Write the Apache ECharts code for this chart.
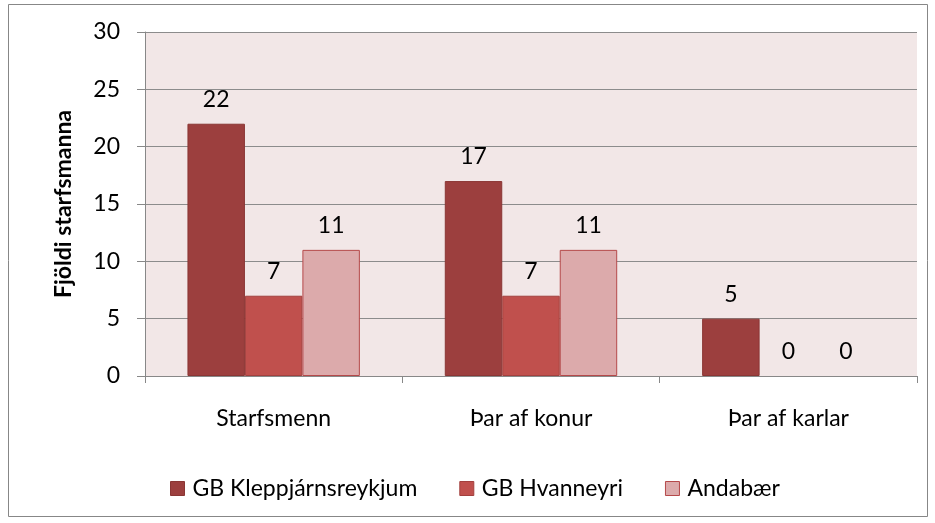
<!DOCTYPE html>
<html>
<head>
<meta charset="utf-8">
<script src="https://cdn.jsdelivr.net/npm/echarts@6/dist/echarts.min.js"></script>
<style>
    html, body { margin: 0; padding: 0; background: #fff; }
    #chart { width: 935px; height: 523px; }
</style>
</head>
<body>
<div id="chart"></div>
<script>
// flokkar og gildi
const categories = ["Starfsmenn", "Þar af konur", "Þar af karlar"];
const seriesNames = ["GB Kleppjárnsreykjum", "GB Hvanneyri", "Andabær"];
const kleppjarn = [22, 17, 5];
const hvanneyri = [7, 7, 0];
const andabaer = [11, 11, 0];
const barColors = ["#9c3f3e", "#c0504d", "#dcaaab"];
const borderColors = ["#8a3634", "#a3403e", "#b5494a"];

const font = "Lato, 'Noto Sans', sans-serif";
const fs = 23;
const values = [kleppjarn, hvanneyri, andabaer];

let chart = echarts.init(document.getElementById("chart"));

let option = {
    animation: false,
    textStyle: { fontFamily: font },
    graphic: [
        {
            type: "rect",
            shape: { x: 8.5, y: 4.5, width: 919, height: 512 },
            style: { fill: "none", stroke: "#878787", lineWidth: 1 },
            silent: true,
        },
    ],
    grid: {
        left: 145,
        right: 18,
        top: 32,
        bottom: 147,
        show: true,
        backgroundColor: "#f2e7e7",
        borderWidth: 0,
    },
    legend: {
        left: 165,
        top: 472,
        itemWidth: 14,
        itemHeight: 14,
        itemGap: 42,
        textStyle: { fontSize: fs, color: "#000", fontFamily: font, padding: [0, 0, 0, 3] },
        data: seriesNames.map((n, i) => ({
            name: n,
            icon: "rect",
            itemStyle: { color: barColors[i], borderColor: borderColors[i], borderWidth: 1 },
        })),
    },
    xAxis: {
        type: "category",
        data: categories,
        axisLine: { lineStyle: { color: "#888", width: 1 } },
        axisTick: { show: true, length: 7, lineStyle: { color: "#888" } },
        axisLabel: { margin: 31, fontSize: fs, color: "#000", fontFamily: font },
    },
    yAxis: {
        type: "value",
        min: 0,
        max: 30,
        interval: 5,
        name: "Fjöldi starfsmanna",
        nameLocation: "middle",
        nameGap: 70,
        nameTextStyle: { fontSize: fs, fontWeight: "bold", color: "#000", fontFamily: font },
        axisLine: { show: true, lineStyle: { color: "#888", width: 1 } },
        axisTick: { show: true, length: 8, lineStyle: { color: "#888" } },
        axisLabel: { margin: 25, fontSize: fs, color: "#000", fontFamily: font },
        splitLine: { show: true, lineStyle: { color: "#8c8c8c", width: 1 } },
    },
    series: seriesNames.map((n, i) => ({
        name: n,
        type: "bar",
        data: values[i].map((v) => ({
            value: v,
            itemStyle: { borderWidth: v === 0 ? 0 : 1 },
        })),
        barGap: "0%",
        barCategoryGap: "33%",
        itemStyle: { color: barColors[i], borderColor: borderColors[i], borderWidth: 1 },
        label: {
            show: true,
            position: "top",
            distance: 13,
            fontSize: fs,
            color: "#000",
            fontFamily: font,
        },
    })),
};

chart.setOption(option);
</script>
</body>
</html>
